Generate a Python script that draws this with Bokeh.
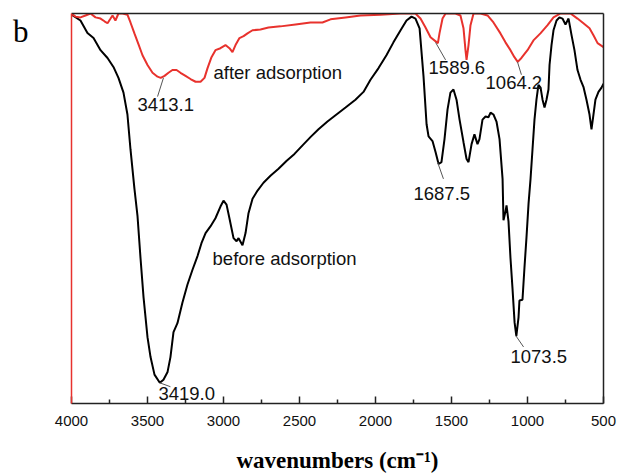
from bokeh.plotting import figure
from bokeh.models import Range1d, FixedTicker, LinearAxis, ColumnDataSource
from bokeh.embed import file_html
from bokeh.resources import INLINE
from bokeh.core.properties import value

# ---- data (wavenumber cm-1, transmittance a.u.) ----
before_wn = [4000, 3941, 3895, 3855, 3809, 3763, 3724, 3691, 3658, 3632, 3612, 3586, 3566,
             3546, 3526, 3500, 3480, 3454, 3419, 3395, 3368, 3349, 3329, 3303, 3270, 3237,
             3204, 3171, 3145, 3118, 3086, 3053, 3020, 3000, 2980, 2961, 2934, 2914, 2901,
             2875, 2855, 2836, 2809, 2776, 2737, 2691, 2638, 2586, 2533, 2480, 2428, 2375,
             2316, 2263, 2197, 2132, 2079, 2033, 1980, 1928, 1882, 1835, 1796, 1763, 1737,
             1710, 1684, 1664, 1651, 1625, 1605, 1585, 1566, 1546, 1526, 1507, 1487, 1467,
             1447, 1421, 1401, 1388, 1368, 1349, 1329, 1316, 1296, 1276, 1257, 1243, 1224,
             1204, 1184, 1164, 1158, 1145, 1138, 1125, 1112, 1099, 1085, 1073.5, 1059, 1053,
             1033, 1020, 1007, 993, 980, 967, 954, 941, 928, 914, 901, 888, 875, 862, 855,
             842, 829, 809, 790, 770, 750, 730, 710, 691, 671, 651, 632, 612, 592, 579, 566,
             553, 533, 513, 500]
before_t = [99.7, 98.2, 95.0, 93.7, 90.6, 88.6, 86.3, 83.5, 79.7, 74.1, 65.2, 55.1, 48.2,
            37.3, 27.2, 17.0, 11.9, 7.4, 5.3, 6.1, 8.1, 11.9, 18.3, 20.6, 25.9, 30.5,
            34.3, 37.8, 41.1, 43.7, 45.4, 47.5, 50.5, 52.0, 51.0, 47.5, 42.4, 41.6, 42.4,
            40.6, 43.7, 48.7, 52.5, 54.6, 56.6, 58.4, 60.2, 62.2, 64.0, 66.2, 68.3, 70.3,
            72.3, 73.9, 75.9, 77.9, 79.9, 83.0, 86.0, 89.3, 92.6, 95.7, 98.2, 99.2, 98.7,
            96.2, 83.8, 71.6, 68.5, 67.3, 64.5, 61.4, 61.9, 67.8, 75.4, 79.7, 80.5, 77.9,
            72.8, 67.0, 62.7, 61.9, 66.5, 69.0, 66.5, 67.8, 72.8, 73.6, 73.4, 74.6, 74.1,
            72.3, 67.8, 57.6, 47.0, 49.2, 50.8, 46.7, 37.3, 29.7, 20.8, 17.3, 22.1, 26.4,
            26.6, 34.8, 42.4, 51.3, 57.6, 65.2, 72.8, 77.9, 81.7, 81.0, 77.9, 75.9, 77.9, 80.5, 86.8,
            91.9, 95.7, 98.2, 99.0, 98.7, 97.2, 98.7, 94.4, 90.6, 85.5, 83.0, 81.2, 77.9, 74.1, 70.3, 74.1,
            77.9, 79.9, 81.0, 82.0]

after_wn = [4000, 3974, 3941, 3908, 3875, 3842, 3809, 3783, 3763, 3743, 3730, 3711, 3691,
            3664, 3632, 3612, 3586, 3559, 3533, 3500, 3467, 3434, 3413.1, 3388, 3362, 3336,
            3309, 3283, 3250, 3217, 3184, 3151, 3125, 3105, 3079, 3053, 3020, 2987, 2961,
            2941, 2921, 2895, 2868, 2842, 2809, 2757, 2704, 2625, 2526, 2428, 2349, 2296,
            2197, 2099, 1967, 1836, 1737, 1704, 1671, 1638, 1589.6, 1579, 1559, 1539, 1474,
            1441, 1421, 1408, 1401, 1388, 1375, 1355, 1309, 1263, 1224, 1178, 1145, 1112,
            1086, 1064.2, 1040, 1000, 961, 915, 868, 829, 783, 717, 671, 632, 592, 566, 539, 500]
after_t = [100.0, 99.2, 99.0, 99.5, 100.0, 99.0, 98.7, 98.0, 97.5, 98.7, 99.5, 98.2, 100.0,
           100.0, 99.7, 97.7, 94.9, 92.1, 89.3, 86.8, 84.8, 83.8, 83.5, 84.0, 84.8, 85.5,
           85.5, 84.8, 84.0, 83.2, 82.5, 82.5, 83.5, 86.0, 88.8, 90.6, 91.1, 91.9, 91.1,
           90.1, 91.9, 93.7, 94.2, 94.9, 95.7, 95.9, 96.4, 96.7, 97.2, 97.7, 97.7, 98.5,
           99.0, 99.5, 99.7, 100.0, 100.0, 98.7, 96.4, 93.9, 92.4, 94.9, 98.7, 100.0, 100.0,
           99.5, 96.2, 90.6, 88.1, 91.9, 97.0, 100.0, 100.0, 99.5, 97.7, 94.9, 92.6, 90.6,
           88.8, 87.6, 88.6, 90.6, 93.1, 94.9, 97.0, 99.0, 100.0, 100.0, 98.7, 97.5, 96.2, 94.4, 92.4, 91.4]

label_text = ["3413.1", "after adsorption", "before adsorption", "3419.0",
              "1589.6", "1064.2", "1687.5", "1073.5"]
label_wn = [3566, 3066, 3072, 3428, 1651, 1276, 1750, 1112]
label_t = [76.7, 84.8, 37.1, 2.6, 86.1, 82.3, 53.8, 12.0]

leader_wn0 = [3395, 3419, 1605, 1066, 1592, 1079]
leader_t0 = [83.5, 5.3, 92.6, 87.6, 61.9, 17.5]
leader_wn1 = [3434, 3349, 1539, 1040, 1553, 1026]
leader_t1 = [78.7, 4.3, 88.1, 84.3, 57.6, 14.5]

major_ticks = [4000, 3500, 3000, 2500, 2000, 1500, 1000, 500]
minor_ticks = [3750, 3250, 2750, 2250, 1750, 1250, 750]

panel_letter = "b"
panel_letter_t = 95.5
x_title = "wavenumbers (cm\u207b\u00b9)"

RED = "#e8322d"

p = figure(width=618, height=475, output_backend="svg", toolbar_location=None, tools="",
           x_range=Range1d(4000, 500), y_range=Range1d(0, 100),
           min_border_left=71, min_border_right=15, min_border_top=13, min_border_bottom=68)
p.outline_line_color = None
p.grid.visible = False
p.background_fill_color = "white"
p.border_fill_color = "white"

# bottom axis
xa = p.xaxis[0]
xa.ticker = FixedTicker(ticks=major_ticks, minor_ticks=minor_ticks)
xa.axis_line_color = "#222222"
xa.axis_line_width = 1.5
xa.major_tick_in = 7
xa.major_tick_out = 0
xa.minor_tick_in = 4
xa.minor_tick_out = 0
xa.major_tick_line_width = 1.5
xa.minor_tick_line_width = 1.5
xa.major_tick_line_color = "#222222"
xa.minor_tick_line_color = "#222222"
xa.major_label_text_font = "Liberation Sans"
xa.major_label_text_font_size = "15px"
xa.major_label_text_color = "#111111"
xa.major_label_standoff = 12
xa.axis_label = x_title
xa.axis_label_text_font = "Liberation Serif"
xa.axis_label_text_font_style = "bold"
xa.axis_label_text_font_size = "23px"
xa.axis_label_text_color = "black"
xa.axis_label_standoff = 19

# left axis: red line only, panel letter as its single label
ya = p.yaxis[0]
ya.ticker = FixedTicker(ticks=[panel_letter_t])
ya.major_label_overrides = {panel_letter_t: panel_letter}
ya.axis_line_color = RED
ya.axis_line_width = 1.5
ya.major_tick_line_color = None
ya.minor_tick_line_color = None
ya.major_tick_in = 0
ya.major_tick_out = 0
ya.minor_tick_in = 0
ya.minor_tick_out = 0
ya.major_label_standoff = 43
ya.major_label_text_font = "Liberation Serif"
ya.major_label_text_font_size = "31px"
ya.major_label_text_color = "black"

# right and top frame lines
for side in ("right", "above"):
    ax = LinearAxis(ticker=FixedTicker(ticks=[]), axis_line_color="#222222", axis_line_width=1.5,
                    major_tick_line_color=None, minor_tick_line_color=None,
                    major_tick_in=0, major_tick_out=0, minor_tick_in=0, minor_tick_out=0,
                    major_label_text_font_size="0px")
    p.add_layout(ax, side)

p.line(before_wn, before_t, line_color="black", line_width=2)
p.line(after_wn, after_t, line_color=RED, line_width=2)

p.segment(x0=leader_wn0, y0=leader_t0, x1=leader_wn1, y1=leader_t1,
          line_color="#555555", line_width=1)

src = ColumnDataSource(dict(x=label_wn, y=label_t, t=label_text))
p.text(x="x", y="y", text="t", source=src, text_font=value("Liberation Sans"),
       text_font_size="18.5px", text_color="#111111", text_align="left",
       text_baseline="alphabetic")

open("out.html", "w").write(file_html(p, INLINE))
